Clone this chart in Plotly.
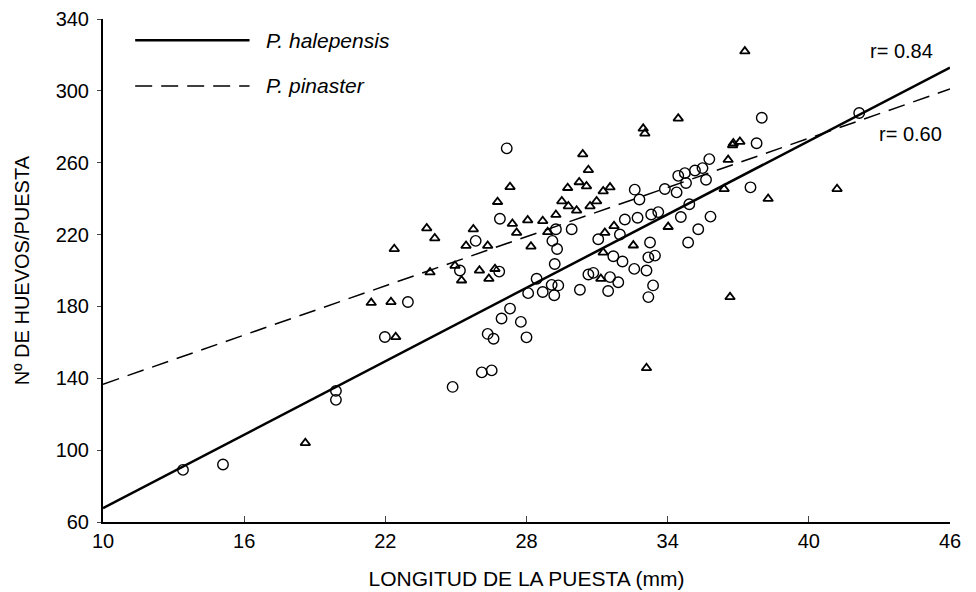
import plotly.graph_objects as go

# P. halepensis (open circles)
hal_x = [13.4, 15.1, 19.9, 19.9, 22.96, 21.98, 27.16, 26.87, 29.25, 29.1, 29.3, 25.84, 25.17, 26.84,
         28.43, 29.2, 27.3, 26.94, 27.76, 26.35, 26.6, 28.0, 26.1, 26.52, 24.86, 28.07, 28.69, 29.07,
         29.18, 29.92, 32.6, 32.8, 33.88, 34.38, 34.45, 34.73, 34.78, 35.16, 35.48, 35.77, 35.63,
         33.6, 33.3, 32.72, 32.18, 34.56, 35.82, 35.3, 34.92, 31.97, 31.05, 33.25, 34.87, 29.35,
         30.27, 30.63, 30.84, 31.55, 31.9, 31.47, 31.69, 32.08, 32.58, 33.1, 33.18, 33.46, 33.38,
         33.18, 38.0, 37.78, 37.52, 42.14]
hal_y = [89, 92, 133, 128, 182.5, 163, 268, 228.8, 223, 216.5, 212, 216.5, 200, 199.4,
         195.4, 203.6, 178.8, 173.3, 171.4, 164.7, 162, 162.8, 143.3, 144.4, 135.2, 187.4, 188, 192,
         186.2, 223, 245, 239.5, 245.4, 243.5, 252.7, 254.2, 248.7, 255.7, 257, 262, 250.5,
         232.5, 231.2, 229.4, 228.4, 229.8, 230, 223, 236.9, 220, 217.4, 215.6, 215.6, 191.7,
         189.3, 197.8, 198.7, 196.3, 193.5, 188.6, 207.9, 205, 200.9, 200, 207.3, 208.3, 191.7,
         185.2, 285, 270.8, 246.3, 287.7]

# P. pinaster (open triangles)
pin_x = [21.4, 22.24, 22.44, 18.6, 27.3, 26.77, 27.4, 27.58, 28.05, 28.69, 29.25, 28.9, 28.19,
         23.76, 24.1, 22.38, 25.74, 25.43, 26.35, 23.9, 24.96, 25.24, 26.0, 26.66, 26.4,
         34.45, 32.96, 33.03, 30.39, 30.63, 30.24, 30.55, 29.75, 31.26, 31.55, 29.5, 29.78, 30.13,
         30.7, 30.98, 36.76, 36.57, 36.4, 34.02, 31.72, 31.33, 32.54, 36.65, 33.1, 31.16, 31.26,
         36.79, 37.07, 38.27, 41.2, 37.28]
pin_y = [182, 182.5, 163, 104, 246.5, 238.2, 226, 221, 228, 227.6, 231, 221.4, 213.4,
         223.5, 218, 212, 223, 213.8, 213.8, 199, 202.7, 194.5, 200, 200.9, 195.4,
         284.6, 279, 276.3, 264.7, 256, 249.2, 246.9, 246, 244.1, 246.3, 238.6, 235.8, 233.4,
         235.8, 238.6, 269.8, 261.6, 245.4, 224.3, 224.8, 221, 214, 185.2, 145.7, 195.4, 210,
         270.8, 271.7, 239.9, 245.4, 322]

# Regression lines (endpoints)
line_x = [10, 46]
hal_line = [67.7, 313]
pin_line = [136.7, 301]

x_ticks = [10, 16, 22, 28, 34, 40, 46]
y_ticks = [60, 100, 140, 180, 220, 260, 300, 340]

FONT = "Liberation Sans, Arial, sans-serif"
DASH = "17px,9px"

fig = go.Figure()
fig.add_trace(go.Scatter(x=line_x, y=hal_line, mode="lines",
                         line=dict(color="black", width=2.5), showlegend=False))
fig.add_trace(go.Scatter(x=line_x, y=pin_line, mode="lines",
                         line=dict(color="black", width=1.5, dash=DASH), showlegend=False))
fig.add_trace(go.Scatter(x=hal_x, y=hal_y, mode="markers",
                         marker=dict(symbol="circle-open", size=10.5, color="black",
                                     line=dict(width=1.4)), showlegend=False))
fig.add_trace(go.Scatter(x=pin_x, y=pin_y, mode="markers",
                         marker=dict(symbol="triangle-up-open", size=8.5, color="black",
                                     line=dict(width=1.8)), showlegend=False))

# legend drawn manually
fig.add_shape(type="line", xref="paper", yref="paper", x0=0.038, x1=0.173, y0=0.958, y1=0.958,
              line=dict(color="black", width=2.5))
fig.add_shape(type="line", xref="paper", yref="paper", x0=0.038, x1=0.173, y0=0.867, y1=0.867,
              line=dict(color="black", width=1.5, dash=DASH))
fig.add_annotation(xref="paper", yref="paper", x=0.19, y=0.958, text="<i>P. halepensis</i>",
                   showarrow=False, xanchor="left", yanchor="middle",
                   font=dict(family=FONT, size=21, color="black"))
fig.add_annotation(xref="paper", yref="paper", x=0.19, y=0.867, text="<i>P. pinaster</i>",
                   showarrow=False, xanchor="left", yanchor="middle",
                   font=dict(family=FONT, size=21, color="black"))
fig.add_annotation(x=42.5, y=322, text="r= 0.84", showarrow=False, xanchor="left",
                   yanchor="middle", font=dict(family=FONT, size=20, color="black"))
fig.add_annotation(x=42.9, y=276, text="r= 0.60", showarrow=False, xanchor="left",
                   yanchor="middle", font=dict(family=FONT, size=20, color="black"))
# y-axis title
fig.add_annotation(xref="paper", yref="paper", x=-0.096, y=0.5, text="Nº DE HUEVOS/PUESTA",
                   textangle=-90, showarrow=False, xanchor="center", yanchor="middle",
                   font=dict(family=FONT, size=20, color="black"))

# page body has an 8px margin, so the figure is sized and offset to compensate
fig.update_layout(
    width=968, height=584,
    margin=dict(l=95, r=26, t=11, b=70, autoexpand=False),
    paper_bgcolor="white", plot_bgcolor="white",
    font=dict(family=FONT, size=18, color="black"),
    xaxis=dict(range=[10, 46], tickvals=x_ticks, ticks="inside", ticklen=6, tickwidth=1,
               showline=True, linecolor="black", linewidth=2, showgrid=False, zeroline=False,
               tickfont=dict(size=20), automargin=False,
               title=dict(text="LONGITUD DE LA PUESTA (mm)", font=dict(size=21), standoff=20)),
    yaxis=dict(range=[60, 340], tickvals=y_ticks, ticks="outside", ticklen=4, tickwidth=1,
               showline=True, linecolor="black", linewidth=2, showgrid=False, zeroline=False,
               tickfont=dict(size=20), automargin=False, ticklabelstandoff=4),
)

fig.write_html("out.html")
